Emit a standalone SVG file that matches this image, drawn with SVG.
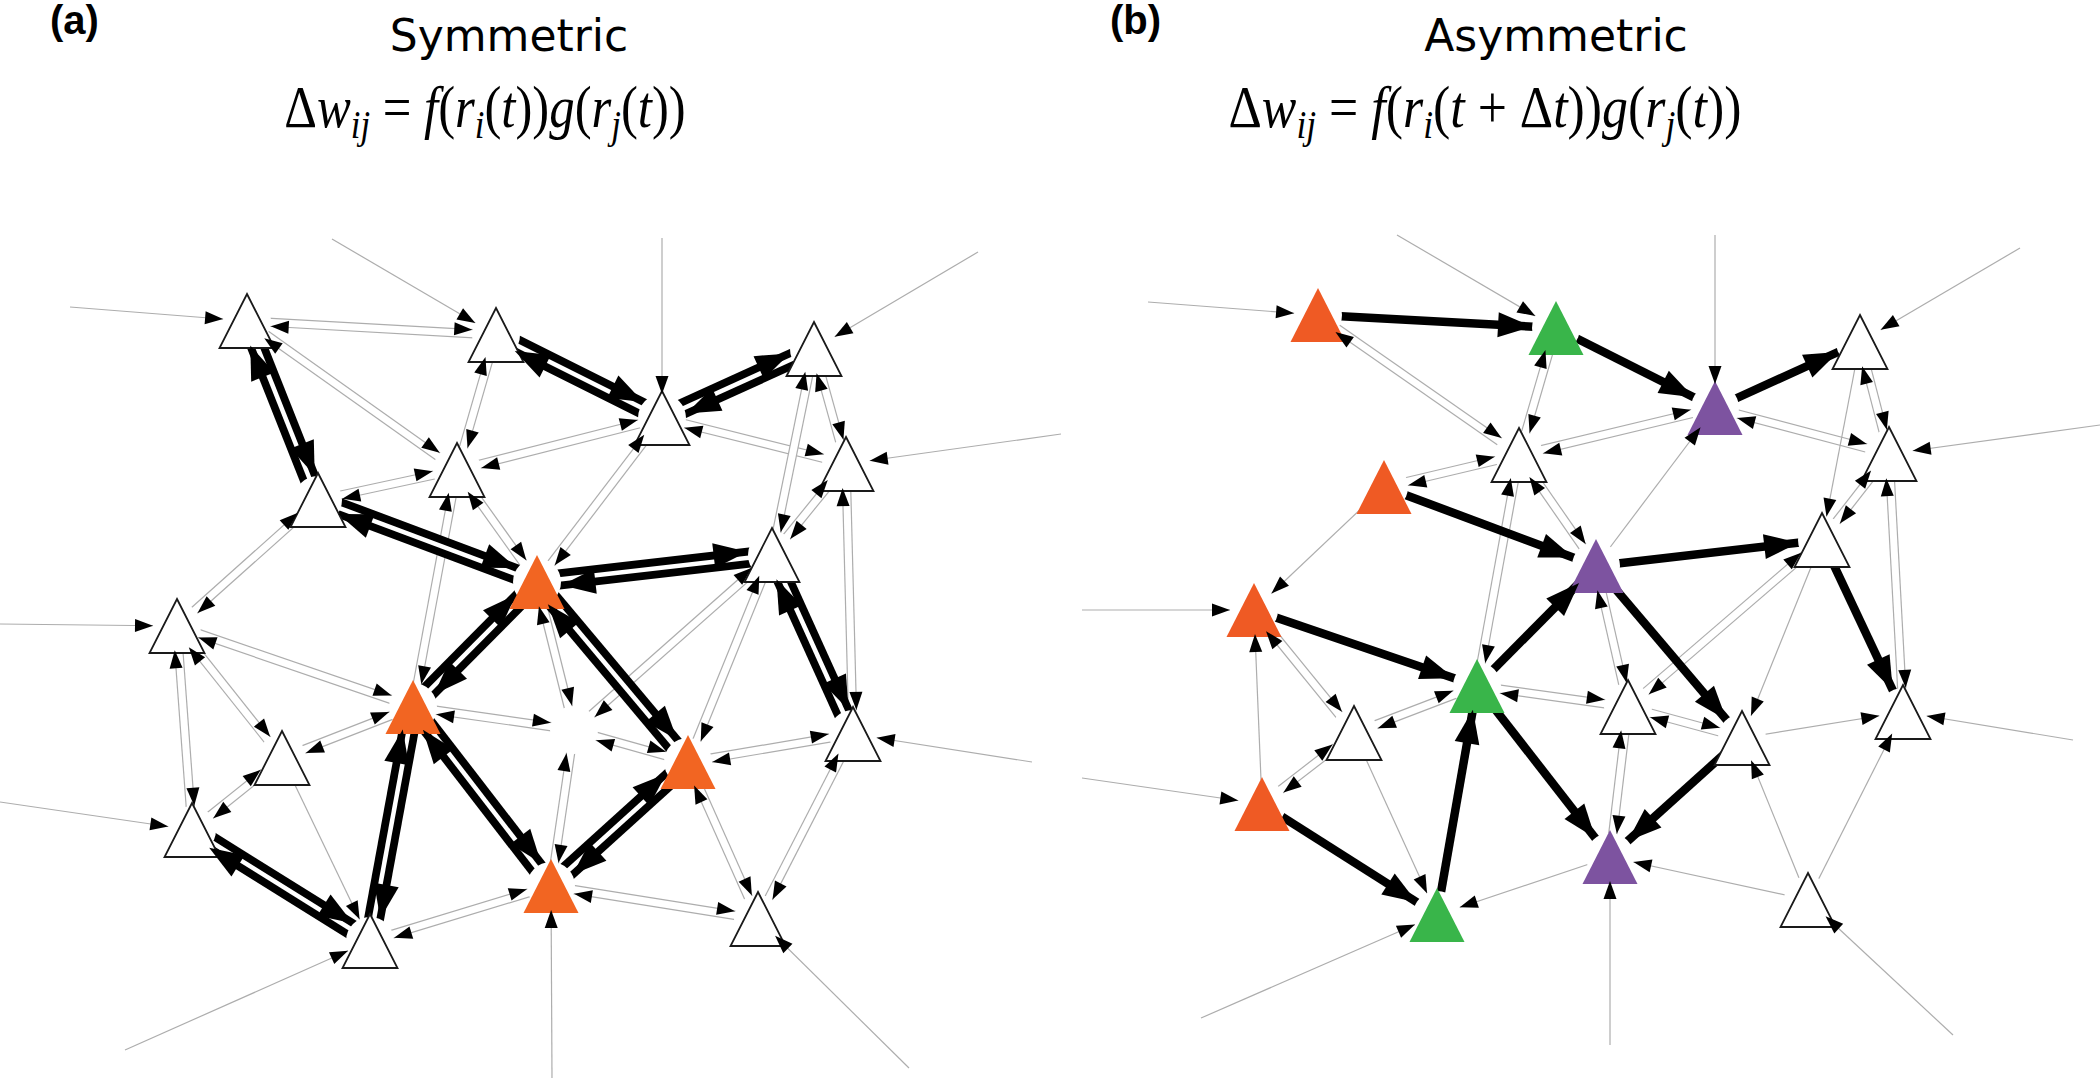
<svg xmlns="http://www.w3.org/2000/svg" xmlns:xlink="http://www.w3.org/1999/xlink" width="2100" height="1079" viewBox="0 0 2100 1079">
<style>
.po{fill:none;stroke:#adadad;stroke-width:9.4}
.pi{fill:none;stroke:#fff;stroke-width:7}
.Po{fill:none;stroke:#000;stroke-width:20}
.Pi{fill:none;stroke:#fff;stroke-width:4.5}
.s{fill:none;stroke:#adadad;stroke-width:1.2}
.S{fill:none;stroke:#000;stroke-width:8.5}
.ma{fill:none;stroke:none;marker-end:url(#ap)}
.mA{fill:none;stroke:none;marker-end:url(#aP)}
.ms{fill:none;stroke:none;marker-end:url(#as)}
.mS{fill:none;stroke:none;marker-end:url(#aS)}
.halo{fill:#fff}
.w{fill:#fff;stroke:#1a1a1a;stroke-width:1.8}
.o{fill:#f26522}
.o2{fill:#ef5a24}
.g{fill:#39b54a}
.p{fill:#7d53a0}
.lab{font-family:"Liberation Sans",Arial,sans-serif;font-weight:bold;font-size:40px}
.ttl{font-family:"DejaVu Sans",sans-serif;font-size:44px;text-anchor:middle}
.math{font-family:"Liberation Serif","DejaVu Serif",serif;font-size:54px;text-anchor:middle}
.it{font-style:italic}
.sub{font-style:italic;font-size:37px}
</style>
<defs>
<path id="tri" d="M0,-27 L27.5,27 L-27.5,27 Z"/>
<marker id="ap" markerUnits="userSpaceOnUse" orient="auto" overflow="visible" markerWidth="1" markerHeight="1" refX="0" refY="0"><path d="M-24,-4 L-42,-10.5 L-42,2.5 Z" fill="#000"/></marker>
<marker id="aP" markerUnits="userSpaceOnUse" orient="auto" overflow="visible" markerWidth="1" markerHeight="1" refX="0" refY="0"><path d="M-24,-6 L-58,-18.5 L-58,6.5 Z" fill="#000"/></marker>
<marker id="as" markerUnits="userSpaceOnUse" orient="auto" overflow="visible" markerWidth="1" markerHeight="1" refX="0" refY="0"><path d="M-24,0 L-42,-6.5 L-42,6.5 Z" fill="#000"/></marker>
<marker id="aS" markerUnits="userSpaceOnUse" orient="auto" overflow="visible" markerWidth="1" markerHeight="1" refX="0" refY="0"><path d="M-24,0 L-58,-12.5 L-58,12.5 Z" fill="#000"/></marker>
</defs>
<rect width="2100" height="1079" fill="#fff"/>

<g id="titles">
<text class="lab" x="50" y="34">(a)</text>
<text class="ttl" x="509" y="51">Symmetric</text>
<text class="math" transform="translate(485,127) scale(0.94,1.08)" x="0" y="0">Δ<tspan class="it">w</tspan><tspan class="sub" dy="10">ij</tspan><tspan dy="-10"> = </tspan><tspan class="it">f</tspan>(<tspan class="it">r</tspan><tspan class="sub" dy="10">i</tspan><tspan dy="-10">(</tspan><tspan class="it">t</tspan>))<tspan class="it">g</tspan>(<tspan class="it">r</tspan><tspan class="sub" dy="10">j</tspan><tspan dy="-10">(</tspan><tspan class="it">t</tspan>))</text>
<text class="lab" x="1110" y="34">(b)</text>
<text class="ttl" x="1556" y="51">Asymmetric</text>
<text class="math" transform="translate(1485,127) scale(0.96,1.08)" x="0" y="0">Δ<tspan class="it">w</tspan><tspan class="sub" dy="10">ij</tspan><tspan dy="-10"> = </tspan><tspan class="it">f</tspan>(<tspan class="it">r</tspan><tspan class="sub" dy="10">i</tspan><tspan dy="-10">(</tspan><tspan class="it">t</tspan> + Δ<tspan class="it">t</tspan>))<tspan class="it">g</tspan>(<tspan class="it">r</tspan><tspan class="sub" dy="10">j</tspan><tspan dy="-10">(</tspan><tspan class="it">t</tspan>))</text>
</g>

<g id="connectors">
<g id="edge-lines">
<path class="po" d="M247 321L496 335"/><path class="pi" d="M247 321L496 335"/>
<path class="po" d="M247 321L457 470"/><path class="pi" d="M247 321L457 470"/>
<path class="po" d="M496 335L457 470"/><path class="pi" d="M496 335L457 470"/>
<path class="po" d="M457 470L318 500"/><path class="pi" d="M457 470L318 500"/>
<path class="po" d="M457 470L662 418"/><path class="pi" d="M457 470L662 418"/>
<path class="po" d="M457 470L537 582"/><path class="pi" d="M457 470L537 582"/>
<path class="po" d="M457 470L413 707"/><path class="pi" d="M457 470L413 707"/>
<path class="po" d="M318 500L177 626"/><path class="pi" d="M318 500L177 626"/>
<path class="po" d="M177 626L413 707"/><path class="pi" d="M177 626L413 707"/>
<path class="po" d="M177 626L282 758"/><path class="pi" d="M177 626L282 758"/>
<path class="po" d="M177 626L192 830"/><path class="pi" d="M177 626L192 830"/>
<path class="po" d="M282 758L192 830"/><path class="pi" d="M282 758L192 830"/>
<path class="po" d="M282 758L413 707"/><path class="pi" d="M282 758L413 707"/>
<path class="po" d="M370 941L551 886"/><path class="pi" d="M370 941L551 886"/>
<path class="po" d="M662 418L846 464"/><path class="pi" d="M662 418L846 464"/>
<path class="po" d="M662 418L537 582"/><path class="pi" d="M662 418L537 582"/>
<path class="po" d="M814 349L846 464"/><path class="pi" d="M814 349L846 464"/>
<path class="po" d="M814 349L772 555"/><path class="pi" d="M814 349L772 555"/>
<path class="po" d="M846 464L772 555"/><path class="pi" d="M846 464L772 555"/>
<path class="po" d="M846 464L853 734"/><path class="pi" d="M846 464L853 734"/>
<path class="po" d="M772 555L574 730"/><path class="pi" d="M772 555L574 730"/>
<path class="po" d="M772 555L688 762"/><path class="pi" d="M772 555L688 762"/>
<path class="po" d="M537 582L574 730"/><path class="pi" d="M537 582L574 730"/>
<path class="po" d="M574 730L551 886"/><path class="pi" d="M574 730L551 886"/>
<path class="po" d="M413 707L574 730"/><path class="pi" d="M413 707L574 730"/>
<path class="po" d="M688 762L574 730"/><path class="pi" d="M688 762L574 730"/>
<path class="po" d="M688 762L853 734"/><path class="pi" d="M688 762L853 734"/>
<path class="po" d="M551 886L758 919"/><path class="pi" d="M551 886L758 919"/>
<path class="po" d="M688 762L758 919"/><path class="pi" d="M688 762L758 919"/>
<path class="po" d="M758 919L853 734"/><path class="pi" d="M758 919L853 734"/>
<path class="po" d="M1318 315L1519 455"/><path class="pi" d="M1318 315L1519 455"/>
<path class="po" d="M1556 328L1519 455"/><path class="pi" d="M1556 328L1519 455"/>
<path class="po" d="M1519 455L1384 487"/><path class="pi" d="M1519 455L1384 487"/>
<path class="po" d="M1519 455L1715 408"/><path class="pi" d="M1519 455L1715 408"/>
<path class="po" d="M1519 455L1477 686"/><path class="pi" d="M1519 455L1477 686"/>
<path class="po" d="M1519 455L1596 566"/><path class="pi" d="M1519 455L1596 566"/>
<path class="po" d="M1254 610L1354 733"/><path class="pi" d="M1254 610L1354 733"/>
<path class="po" d="M1354 733L1262 804"/><path class="pi" d="M1354 733L1262 804"/>
<path class="po" d="M1354 733L1477 686"/><path class="pi" d="M1354 733L1477 686"/>
<path class="po" d="M1477 686L1628 707"/><path class="pi" d="M1477 686L1628 707"/>
<path class="po" d="M1715 408L1889 454"/><path class="pi" d="M1715 408L1889 454"/>
<path class="po" d="M1860 342L1889 454"/><path class="pi" d="M1860 342L1889 454"/>
<path class="po" d="M1889 454L1822 540"/><path class="pi" d="M1889 454L1822 540"/>
<path class="po" d="M1889 454L1903 712"/><path class="pi" d="M1889 454L1903 712"/>
<path class="po" d="M1822 540L1628 707"/><path class="pi" d="M1822 540L1628 707"/>
<path class="po" d="M1596 566L1628 707"/><path class="pi" d="M1596 566L1628 707"/>
<path class="po" d="M1628 707L1742 738"/><path class="pi" d="M1628 707L1742 738"/>
<path class="po" d="M1628 707L1610 857"/><path class="pi" d="M1628 707L1610 857"/>
<path class="s" d="M282 758L370 941"/>
<path class="s" d="M70 307L247 321"/>
<path class="s" d="M332 239L496 335"/>
<path class="s" d="M662 238L662 418"/>
<path class="s" d="M978 252L814 349"/>
<path class="s" d="M1061 434L846 464"/>
<path class="s" d="M0 624L177 626"/>
<path class="s" d="M0 802L192 830"/>
<path class="s" d="M125 1050L370 941"/>
<path class="s" d="M552 1078L551 886"/>
<path class="s" d="M909 1068L758 919"/>
<path class="s" d="M1032 762L853 734"/>
<path class="s" d="M1384 487L1254 610"/>
<path class="s" d="M1262 804L1254 610"/>
<path class="s" d="M1354 733L1437 915"/>
<path class="s" d="M1610 857L1437 915"/>
<path class="s" d="M1860 342L1822 540"/>
<path class="s" d="M1596 566L1715 408"/>
<path class="s" d="M1822 540L1742 738"/>
<path class="s" d="M1742 738L1903 712"/>
<path class="s" d="M1808 900L1742 738"/>
<path class="s" d="M1808 900L1903 712"/>
<path class="s" d="M1808 900L1610 857"/>
<path class="s" d="M1148 302L1318 315"/>
<path class="s" d="M1397 235L1556 328"/>
<path class="s" d="M1715 235L1715 408"/>
<path class="s" d="M2020 248L1860 342"/>
<path class="s" d="M2100 425L1889 454"/>
<path class="s" d="M1082 610L1254 610"/>
<path class="s" d="M1082 778L1262 804"/>
<path class="s" d="M1201 1018L1437 915"/>
<path class="s" d="M1610 1045L1610 857"/>
<path class="s" d="M1953 1035L1808 900"/>
<path class="s" d="M2073 740L1903 712"/>
<path class="Po" d="M247 321L318 500"/><path class="Pi" d="M247 321L318 500"/>
<path class="Po" d="M496 335L662 418"/><path class="Pi" d="M496 335L662 418"/>
<path class="Po" d="M662 418L814 349"/><path class="Pi" d="M662 418L814 349"/>
<path class="Po" d="M318 500L537 582"/><path class="Pi" d="M318 500L537 582"/>
<path class="Po" d="M537 582L772 555"/><path class="Pi" d="M537 582L772 555"/>
<path class="Po" d="M537 582L413 707"/><path class="Pi" d="M537 582L413 707"/>
<path class="Po" d="M537 582L688 762"/><path class="Pi" d="M537 582L688 762"/>
<path class="Po" d="M413 707L370 941"/><path class="Pi" d="M413 707L370 941"/>
<path class="Po" d="M413 707L551 886"/><path class="Pi" d="M413 707L551 886"/>
<path class="Po" d="M688 762L551 886"/><path class="Pi" d="M688 762L551 886"/>
<path class="Po" d="M192 830L370 941"/><path class="Pi" d="M192 830L370 941"/>
<path class="Po" d="M772 555L853 734"/><path class="Pi" d="M772 555L853 734"/>
<path class="S" d="M1318 315L1556 328"/>
<path class="S" d="M1556 328L1715 408"/>
<path class="S" d="M1715 408L1860 342"/>
<path class="S" d="M1384 487L1596 566"/>
<path class="S" d="M1596 566L1822 540"/>
<path class="S" d="M1822 540L1903 712"/>
<path class="S" d="M1254 610L1477 686"/>
<path class="S" d="M1477 686L1596 566"/>
<path class="S" d="M1596 566L1742 738"/>
<path class="S" d="M1742 738L1610 857"/>
<path class="S" d="M1477 686L1610 857"/>
<path class="S" d="M1262 804L1437 915"/>
<path class="S" d="M1437 915L1477 686"/>
</g>
</g>

<g id="nodes">
<g id="a1" transform="translate(247,321)"><circle class="halo" r="24"/><use href="#tri" class="w"/></g>
<g id="a2" transform="translate(496,335)"><circle class="halo" r="24"/><use href="#tri" class="w"/></g>
<g id="a3" transform="translate(662,418)"><circle class="halo" r="24"/><use href="#tri" class="w"/></g>
<g id="a4" transform="translate(814,349)"><circle class="halo" r="24"/><use href="#tri" class="w"/></g>
<g id="a5" transform="translate(457,470)"><circle class="halo" r="24"/><use href="#tri" class="w"/></g>
<g id="a6" transform="translate(846,464)"><circle class="halo" r="24"/><use href="#tri" class="w"/></g>
<g id="a7" transform="translate(318,500)"><circle class="halo" r="24"/><use href="#tri" class="w"/></g>
<g id="a8" transform="translate(537,582)"><circle class="halo" r="24"/><use href="#tri" class="o"/></g>
<g id="a9" transform="translate(772,555)"><circle class="halo" r="24"/><use href="#tri" class="w"/></g>
<g id="a10" transform="translate(177,626)"><circle class="halo" r="24"/><use href="#tri" class="w"/></g>
<g id="a11" transform="translate(413,707)"><circle class="halo" r="24"/><use href="#tri" class="o"/></g>
<g id="a12" transform="translate(282,758)"><circle class="halo" r="24"/><use href="#tri" class="w"/></g>
<g id="a13" transform="translate(688,762)"><circle class="halo" r="24"/><use href="#tri" class="o"/></g>
<g id="a14" transform="translate(853,734)"><circle class="halo" r="24"/><use href="#tri" class="w"/></g>
<g id="a15" transform="translate(192,830)"><circle class="halo" r="24"/><use href="#tri" class="w"/></g>
<g id="a16" transform="translate(551,886)"><circle class="halo" r="24"/><use href="#tri" class="o"/></g>
<g id="a17" transform="translate(370,941)"><circle class="halo" r="24"/><use href="#tri" class="w"/></g>
<g id="a18" transform="translate(758,919)"><circle class="halo" r="24"/><use href="#tri" class="w"/></g>
<g id="a19" transform="translate(574,730)"><circle class="halo" r="24"/></g>
<g id="b1" transform="translate(1318,315)"><circle class="halo" r="24"/><use href="#tri" class="o2"/></g>
<g id="b2" transform="translate(1556,328)"><circle class="halo" r="24"/><use href="#tri" class="g"/></g>
<g id="b3" transform="translate(1715,408)"><circle class="halo" r="24"/><use href="#tri" class="p"/></g>
<g id="b4" transform="translate(1860,342)"><circle class="halo" r="24"/><use href="#tri" class="w"/></g>
<g id="b5" transform="translate(1519,455)"><circle class="halo" r="24"/><use href="#tri" class="w"/></g>
<g id="b6" transform="translate(1889,454)"><circle class="halo" r="24"/><use href="#tri" class="w"/></g>
<g id="b7" transform="translate(1384,487)"><circle class="halo" r="24"/><use href="#tri" class="o2"/></g>
<g id="b8" transform="translate(1596,566)"><circle class="halo" r="24"/><use href="#tri" class="p"/></g>
<g id="b9" transform="translate(1822,540)"><circle class="halo" r="24"/><use href="#tri" class="w"/></g>
<g id="b10" transform="translate(1254,610)"><circle class="halo" r="24"/><use href="#tri" class="o2"/></g>
<g id="b11" transform="translate(1477,686)"><circle class="halo" r="24"/><use href="#tri" class="g"/></g>
<g id="b12" transform="translate(1628,707)"><circle class="halo" r="24"/><use href="#tri" class="w"/></g>
<g id="b13" transform="translate(1903,712)"><circle class="halo" r="24"/><use href="#tri" class="w"/></g>
<g id="b14" transform="translate(1742,738)"><circle class="halo" r="24"/><use href="#tri" class="w"/></g>
<g id="b15" transform="translate(1354,733)"><circle class="halo" r="24"/><use href="#tri" class="w"/></g>
<g id="b16" transform="translate(1262,804)"><circle class="halo" r="24"/><use href="#tri" class="o2"/></g>
<g id="b17" transform="translate(1610,857)"><circle class="halo" r="24"/><use href="#tri" class="p"/></g>
<g id="b18" transform="translate(1437,915)"><circle class="halo" r="24"/><use href="#tri" class="g"/></g>
<g id="b19" transform="translate(1808,900)"><circle class="halo" r="24"/><use href="#tri" class="w"/></g>
</g>

<g id="arrowheads">
<path class="ma" d="M247 321L496 335"/><path class="ma" d="M496 335L247 321"/>
<path class="ma" d="M247 321L457 470"/><path class="ma" d="M457 470L247 321"/>
<path class="ma" d="M496 335L457 470"/><path class="ma" d="M457 470L496 335"/>
<path class="ma" d="M457 470L318 500"/><path class="ma" d="M318 500L457 470"/>
<path class="ma" d="M457 470L662 418"/><path class="ma" d="M662 418L457 470"/>
<path class="ma" d="M457 470L537 582"/><path class="ma" d="M537 582L457 470"/>
<path class="ma" d="M457 470L413 707"/><path class="ma" d="M413 707L457 470"/>
<path class="ma" d="M318 500L177 626"/><path class="ma" d="M177 626L318 500"/>
<path class="ma" d="M177 626L413 707"/><path class="ma" d="M413 707L177 626"/>
<path class="ma" d="M177 626L282 758"/><path class="ma" d="M282 758L177 626"/>
<path class="ma" d="M177 626L192 830"/><path class="ma" d="M192 830L177 626"/>
<path class="ma" d="M282 758L192 830"/><path class="ma" d="M192 830L282 758"/>
<path class="ma" d="M282 758L413 707"/><path class="ma" d="M413 707L282 758"/>
<path class="ma" d="M370 941L551 886"/><path class="ma" d="M551 886L370 941"/>
<path class="ma" d="M662 418L846 464"/><path class="ma" d="M846 464L662 418"/>
<path class="ma" d="M662 418L537 582"/><path class="ma" d="M537 582L662 418"/>
<path class="ma" d="M814 349L846 464"/><path class="ma" d="M846 464L814 349"/>
<path class="ma" d="M814 349L772 555"/><path class="ma" d="M772 555L814 349"/>
<path class="ma" d="M846 464L772 555"/><path class="ma" d="M772 555L846 464"/>
<path class="ma" d="M846 464L853 734"/><path class="ma" d="M853 734L846 464"/>
<path class="ma" d="M772 555L574 730"/><path class="ma" d="M574 730L772 555"/>
<path class="ma" d="M772 555L688 762"/><path class="ma" d="M688 762L772 555"/>
<path class="ma" d="M537 582L574 730"/><path class="ma" d="M574 730L537 582"/>
<path class="ma" d="M574 730L551 886"/><path class="ma" d="M551 886L574 730"/>
<path class="ma" d="M413 707L574 730"/><path class="ma" d="M574 730L413 707"/>
<path class="ma" d="M688 762L574 730"/><path class="ma" d="M574 730L688 762"/>
<path class="ma" d="M688 762L853 734"/><path class="ma" d="M853 734L688 762"/>
<path class="ma" d="M551 886L758 919"/><path class="ma" d="M758 919L551 886"/>
<path class="ma" d="M688 762L758 919"/><path class="ma" d="M758 919L688 762"/>
<path class="ma" d="M758 919L853 734"/><path class="ma" d="M853 734L758 919"/>
<path class="ma" d="M1318 315L1519 455"/><path class="ma" d="M1519 455L1318 315"/>
<path class="ma" d="M1556 328L1519 455"/><path class="ma" d="M1519 455L1556 328"/>
<path class="ma" d="M1519 455L1384 487"/><path class="ma" d="M1384 487L1519 455"/>
<path class="ma" d="M1519 455L1715 408"/><path class="ma" d="M1715 408L1519 455"/>
<path class="ma" d="M1519 455L1477 686"/><path class="ma" d="M1477 686L1519 455"/>
<path class="ma" d="M1519 455L1596 566"/><path class="ma" d="M1596 566L1519 455"/>
<path class="ma" d="M1254 610L1354 733"/><path class="ma" d="M1354 733L1254 610"/>
<path class="ma" d="M1354 733L1262 804"/><path class="ma" d="M1262 804L1354 733"/>
<path class="ma" d="M1354 733L1477 686"/><path class="ma" d="M1477 686L1354 733"/>
<path class="ma" d="M1477 686L1628 707"/><path class="ma" d="M1628 707L1477 686"/>
<path class="ma" d="M1715 408L1889 454"/><path class="ma" d="M1889 454L1715 408"/>
<path class="ma" d="M1860 342L1889 454"/><path class="ma" d="M1889 454L1860 342"/>
<path class="ma" d="M1889 454L1822 540"/><path class="ma" d="M1822 540L1889 454"/>
<path class="ma" d="M1889 454L1903 712"/><path class="ma" d="M1903 712L1889 454"/>
<path class="ma" d="M1822 540L1628 707"/><path class="ma" d="M1628 707L1822 540"/>
<path class="ma" d="M1596 566L1628 707"/><path class="ma" d="M1628 707L1596 566"/>
<path class="ma" d="M1628 707L1742 738"/><path class="ma" d="M1742 738L1628 707"/>
<path class="ma" d="M1628 707L1610 857"/><path class="ma" d="M1610 857L1628 707"/>
<path class="ms" d="M282 758L370 941"/>
<path class="ms" d="M70 307L247 321"/>
<path class="ms" d="M332 239L496 335"/>
<path class="ms" d="M662 238L662 418"/>
<path class="ms" d="M978 252L814 349"/>
<path class="ms" d="M1061 434L846 464"/>
<path class="ms" d="M0 624L177 626"/>
<path class="ms" d="M0 802L192 830"/>
<path class="ms" d="M125 1050L370 941"/>
<path class="ms" d="M552 1078L551 886"/>
<path class="ms" d="M909 1068L758 919"/>
<path class="ms" d="M1032 762L853 734"/>
<path class="ms" d="M1384 487L1254 610"/>
<path class="ms" d="M1262 804L1254 610"/>
<path class="ms" d="M1354 733L1437 915"/>
<path class="ms" d="M1610 857L1437 915"/>
<path class="ms" d="M1860 342L1822 540"/>
<path class="ms" d="M1596 566L1715 408"/>
<path class="ms" d="M1822 540L1742 738"/>
<path class="ms" d="M1742 738L1903 712"/>
<path class="ms" d="M1808 900L1742 738"/>
<path class="ms" d="M1808 900L1903 712"/>
<path class="ms" d="M1808 900L1610 857"/>
<path class="ms" d="M1148 302L1318 315"/>
<path class="ms" d="M1397 235L1556 328"/>
<path class="ms" d="M1715 235L1715 408"/>
<path class="ms" d="M2020 248L1860 342"/>
<path class="ms" d="M2100 425L1889 454"/>
<path class="ms" d="M1082 610L1254 610"/>
<path class="ms" d="M1082 778L1262 804"/>
<path class="ms" d="M1201 1018L1437 915"/>
<path class="ms" d="M1610 1045L1610 857"/>
<path class="ms" d="M1953 1035L1808 900"/>
<path class="ms" d="M2073 740L1903 712"/>
<path class="mA" d="M247 321L318 500"/><path class="mA" d="M318 500L247 321"/>
<path class="mA" d="M496 335L662 418"/><path class="mA" d="M662 418L496 335"/>
<path class="mA" d="M662 418L814 349"/><path class="mA" d="M814 349L662 418"/>
<path class="mA" d="M318 500L537 582"/><path class="mA" d="M537 582L318 500"/>
<path class="mA" d="M537 582L772 555"/><path class="mA" d="M772 555L537 582"/>
<path class="mA" d="M537 582L413 707"/><path class="mA" d="M413 707L537 582"/>
<path class="mA" d="M537 582L688 762"/><path class="mA" d="M688 762L537 582"/>
<path class="mA" d="M413 707L370 941"/><path class="mA" d="M370 941L413 707"/>
<path class="mA" d="M413 707L551 886"/><path class="mA" d="M551 886L413 707"/>
<path class="mA" d="M688 762L551 886"/><path class="mA" d="M551 886L688 762"/>
<path class="mA" d="M192 830L370 941"/><path class="mA" d="M370 941L192 830"/>
<path class="mA" d="M772 555L853 734"/><path class="mA" d="M853 734L772 555"/>
<path class="mS" d="M1318 315L1556 328"/>
<path class="mS" d="M1556 328L1715 408"/>
<path class="mS" d="M1715 408L1860 342"/>
<path class="mS" d="M1384 487L1596 566"/>
<path class="mS" d="M1596 566L1822 540"/>
<path class="mS" d="M1822 540L1903 712"/>
<path class="mS" d="M1254 610L1477 686"/>
<path class="mS" d="M1477 686L1596 566"/>
<path class="mS" d="M1596 566L1742 738"/>
<path class="mS" d="M1742 738L1610 857"/>
<path class="mS" d="M1477 686L1610 857"/>
<path class="mS" d="M1262 804L1437 915"/>
<path class="mS" d="M1437 915L1477 686"/>
</g>
</svg>
